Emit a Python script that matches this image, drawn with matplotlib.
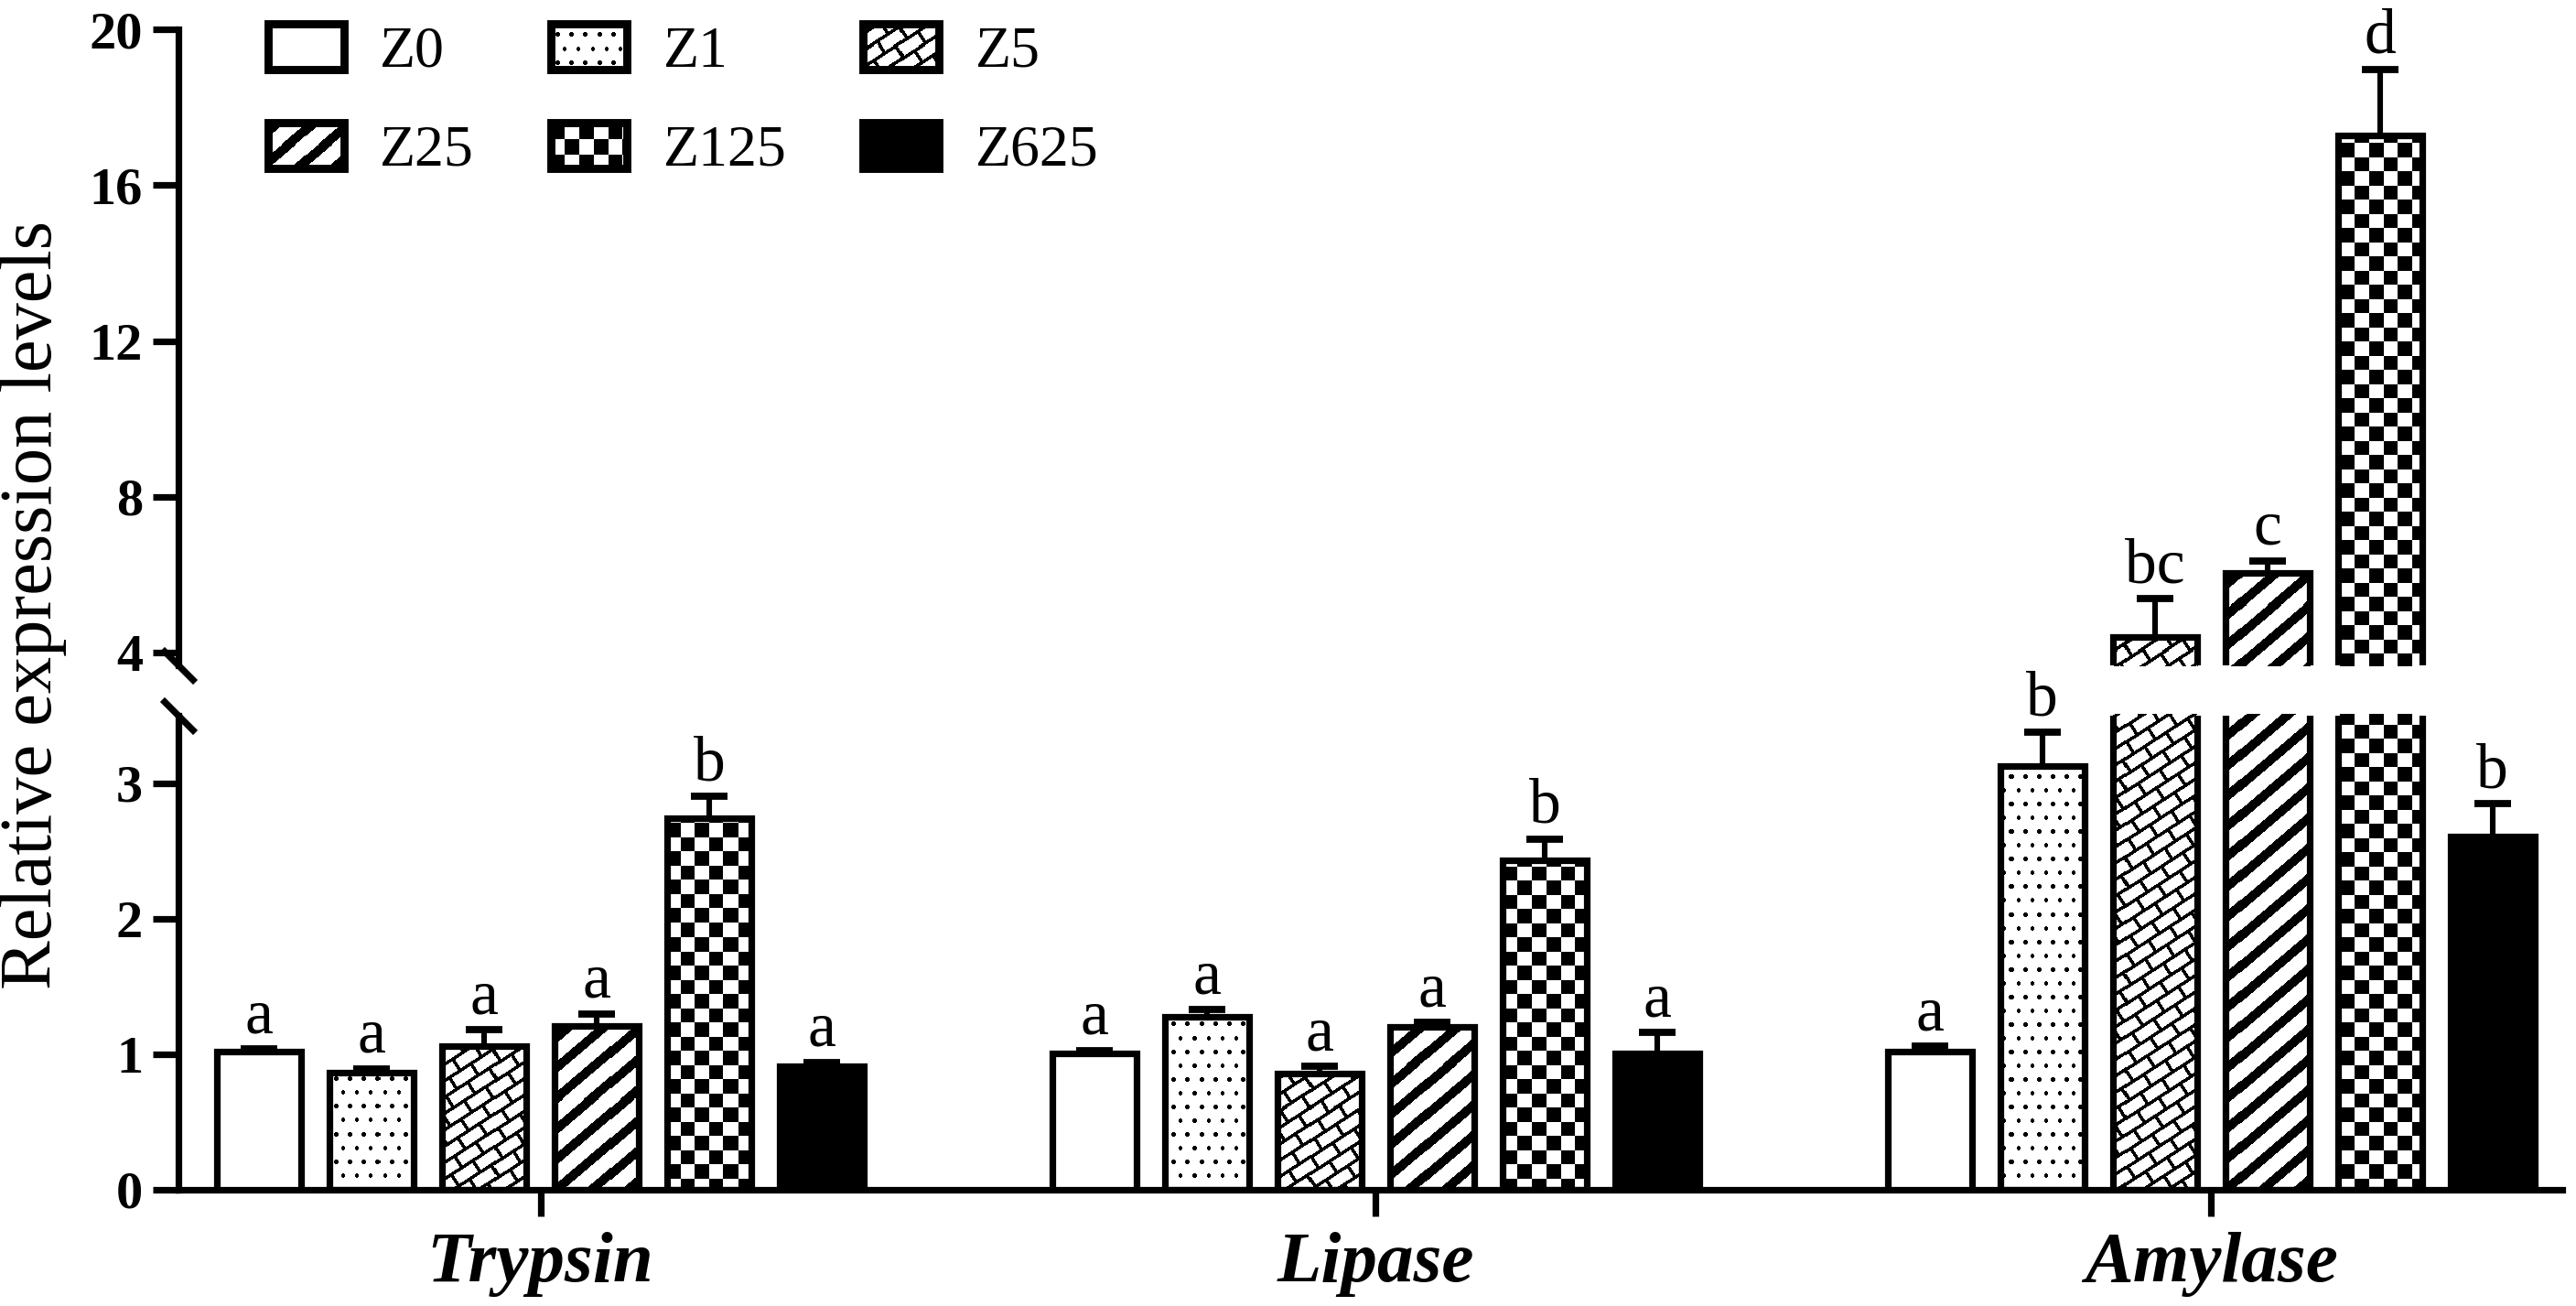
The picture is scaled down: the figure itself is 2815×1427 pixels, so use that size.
import numpy as np
import matplotlib
matplotlib.use("Agg")
import matplotlib.pyplot as plt
from matplotlib.patches import Patch, Rectangle
from matplotlib.legend_handler import HandlerBase
from matplotlib.image import BboxImage
from matplotlib.transforms import Bbox, TransformedBbox
from matplotlib.colors import Normalize

genes = ["Trypsin", "Lipase", "Amylase"]
groups = ["Z0", "Z1", "Z5", "Z25", "Z125", "Z625"]

trypsin = [1.02, 0.865, 1.06, 1.21, 2.745, 0.915]
trypsin_err = [0.02, 0.03, 0.12, 0.09, 0.16, 0.025]
lipase = [1.01, 1.28, 0.86, 1.205, 2.43, 1.01]
lipase_err = [0.02, 0.05, 0.05, 0.03, 0.16, 0.15]
amylase = [1.02, 3.13, 4.4, 6.05, 17.27, 2.61]
amylase_err = [0.04, 0.25, 0.98, 0.31, 1.7, 0.24]

trypsin_sig = ["a", "a", "a", "a", "b", "a"]
lipase_sig = ["a", "a", "a", "a", "b", "a"]
amylase_sig = ["a", "b", "bc", "c", "d", "b"]

yticks_low = [0, 1, 2, 3]
yticks_high = [4, 8, 12, 16, 20]

values = [trypsin, lipase, amylase]
errors = [trypsin_err, lipase_err, amylase_err]
letters = [trypsin_sig, lipase_sig, amylase_sig]


# pixel patterns (True = black), x/y in device pixels
def dots(x, y):
    s = 15.0
    row = np.floor(y / s)
    dx = np.mod(x + (row % 2) * s / 2, s) - s / 2
    dy = np.mod(y, s) - s / 2
    return dx ** 2 + dy ** 2 < 2.5 ** 2


def bricks(x, y):
    th = np.radians(33)
    u = x * np.cos(th) + y * np.sin(th)
    v = -x * np.sin(th) + y * np.cos(th)
    S, L, t = 15.0, 28.0, 3.6
    row = np.floor(v / S)
    return (np.mod(v, S) < t) | (np.mod(u + (row % 2) * L / 2, L) < t)


def stripes(x, y):
    return np.mod(y - 0.85 * x, 33.0) < 13.0


def checks(x, y):
    c = 15.5
    return (np.floor(x / c) + np.floor(y / c)) % 2 == 0


styles = {
    "Z0": dict(face="white", pattern=None),
    "Z1": dict(face="none", pattern=dots),
    "Z5": dict(face="none", pattern=bricks),
    "Z25": dict(face="none", pattern=stripes),
    "Z125": dict(face="none", pattern=checks),
    "Z625": dict(face="black", pattern=None),
}

GAP = 7.42      # distance between gene groups, in bar units
WIDTH = 0.75
XLIM = (-0.715, 20.46)

plt.rcParams["font.family"] = ["Liberation Serif", "DejaVu Serif"]

fig = plt.figure(figsize=(14.075, 7.135), dpi=200)
ax_lo = fig.add_axes([0.0693, 0.0890, 0.9254, 0.3630])
ax_hi = fig.add_axes([0.0693, 0.4905, 0.9254, 0.4870])

ax_lo.set_ylim(0, 3.5)
ax_hi.set_ylim(3.67, 20)
for ax in (ax_lo, ax_hi):
    ax.set_xlim(*XLIM)
    ax.patch.set_visible(False)


def fill_pattern(ax, bar, func):
    x0, y0 = bar.get_x(), bar.get_y()
    w, h = bar.get_width(), bar.get_height()
    ylo, yhi = ax.get_ylim()
    ya, yb = max(y0, ylo), min(y0 + h, yhi)
    if yb <= ya:
        return
    tr = ax.transData
    (px0, py0), (px1, py1) = tr.transform([(x0, ya), (x0 + w, yb)])
    px0, py0 = np.floor(px0), np.floor(py0)
    nx = int(np.ceil(px1 - px0)) + 1
    ny = int(np.ceil(py1 - py0)) + 1
    xx, yy = np.meshgrid(px0 + np.arange(nx) + 0.5, py0 + np.arange(ny) + 0.5)
    img = func(xx, yy).astype(float)
    inv = tr.inverted()
    dx0, dy0 = inv.transform((px0, py0))
    dx1, dy1 = inv.transform((px0 + nx, py0 + ny))
    im = ax.imshow(img, cmap="gray_r", vmin=0, vmax=1, extent=(dx0, dx1, dy0, dy1),
                   origin="lower", interpolation="nearest", aspect="auto", zorder=2)
    im.set_clip_path(bar)


def draw(ax):
    for g in range(len(genes)):
        for i, name in enumerate(groups):
            x = g * GAP + i
            v, e = values[g][i], errors[g][i]
            st = styles[name]
            bar = ax.bar(x, v, width=WIDTH, facecolor=st["face"], edgecolor="black",
                         linewidth=2.6, zorder=3)[0]
            if st["pattern"] is not None:
                fill_pattern(ax, bar, st["pattern"])
            ax.vlines(x, v, v + e, color="black", linewidth=2.2, zorder=4)
            ax.plot([x], [v + e], marker="_", markersize=14.5, markeredgewidth=2.8,
                    color="black", zorder=4)
    ax.set_xlim(*XLIM)


draw(ax_lo)
draw(ax_hi)
ax_lo.set_ylim(0, 3.5)
ax_hi.set_ylim(3.67, 20)

# significance letters
for g in range(len(genes)):
    for i in range(len(groups)):
        x = g * GAP + i
        top = values[g][i] + errors[g][i]
        ax = ax_hi if top > 3.6 else ax_lo
        ax.annotate(letters[g][i], (x, top), xytext=(0, 6.5), textcoords="offset points",
                    ha="center", va="baseline", fontsize=25, annotation_clip=False)

# axes styling
for ax, ticks in ((ax_lo, yticks_low), (ax_hi, yticks_high)):
    ax.spines["top"].set_visible(False)
    ax.spines["right"].set_visible(False)
    ax.spines["left"].set_linewidth(2.6)
    ax.set_yticks(ticks)
    ax.tick_params(axis="y", direction="out", length=10, width=2.6, pad=4, labelsize=21)
    for lbl in ax.get_yticklabels():
        lbl.set_fontweight("bold")

ax_hi.spines["bottom"].set_visible(False)
ax_hi.tick_params(axis="x", bottom=False, labelbottom=False)

ax_lo.spines["bottom"].set_linewidth(2.6)
ax_lo.set_xticks([g * GAP + 2.5 for g in range(len(genes))])
ax_lo.set_xticklabels(genes, fontsize=28.5, fontweight="bold", fontstyle="italic")
ax_lo.tick_params(axis="x", direction="out", length=10.5, width=2.6, pad=6)

# axis break marks
kw = dict(marker=[(-1, 1), (1, -1)], markersize=13, linestyle="none", color="black",
          mec="black", mew=2.6, clip_on=False)
ax_hi.plot([0], [0], transform=ax_hi.transAxes, **kw)
ax_lo.plot([0], [1], transform=ax_lo.transAxes, **kw)

fig.text(0.0128, 0.537, "Relative expression levels", rotation=90, va="center",
         ha="center", fontsize=29)


class BoxHandler(HandlerBase):
    def create_artists(self, legend, orig, xd, yd, w, h, fontsize, trans):
        st = styles[orig.get_label()]
        x0, y0 = -xd, -yd
        arts = []
        if st["pattern"] is not None:
            nw = int(round(w * fig.dpi / 72))
            nh = int(round(h * fig.dpi / 72))
            yy, xx = np.mgrid[0:nh, 0:nw] + 0.5
            img = st["pattern"](xx, yy).astype(float)
            bb = TransformedBbox(Bbox.from_bounds(x0, y0, w, h), trans)
            bi = BboxImage(bb, cmap="gray_r", norm=Normalize(0, 1),
                           interpolation="nearest", origin="lower")
            bi.set_data(img)
            arts.append(bi)
        arts.append(Rectangle((x0, y0), w, h, facecolor=st["face"], edgecolor="black",
                              linewidth=3.2, transform=trans))
        return arts


order = ["Z0", "Z25", "Z1", "Z125", "Z5", "Z625"]
handles = [Patch(label=n) for n in order]
fig.legend(handles, order, handler_map={Patch: BoxHandler()}, loc="upper left",
           bbox_to_anchor=(0.104, 0.982), ncol=3, frameon=False, fontsize=23,
           handlelength=1.3, handleheight=0.83, handletextpad=0.62, columnspacing=1.31,
           labelspacing=0.73, borderpad=0, borderaxespad=0)

fig.savefig("out.png", dpi=200)
